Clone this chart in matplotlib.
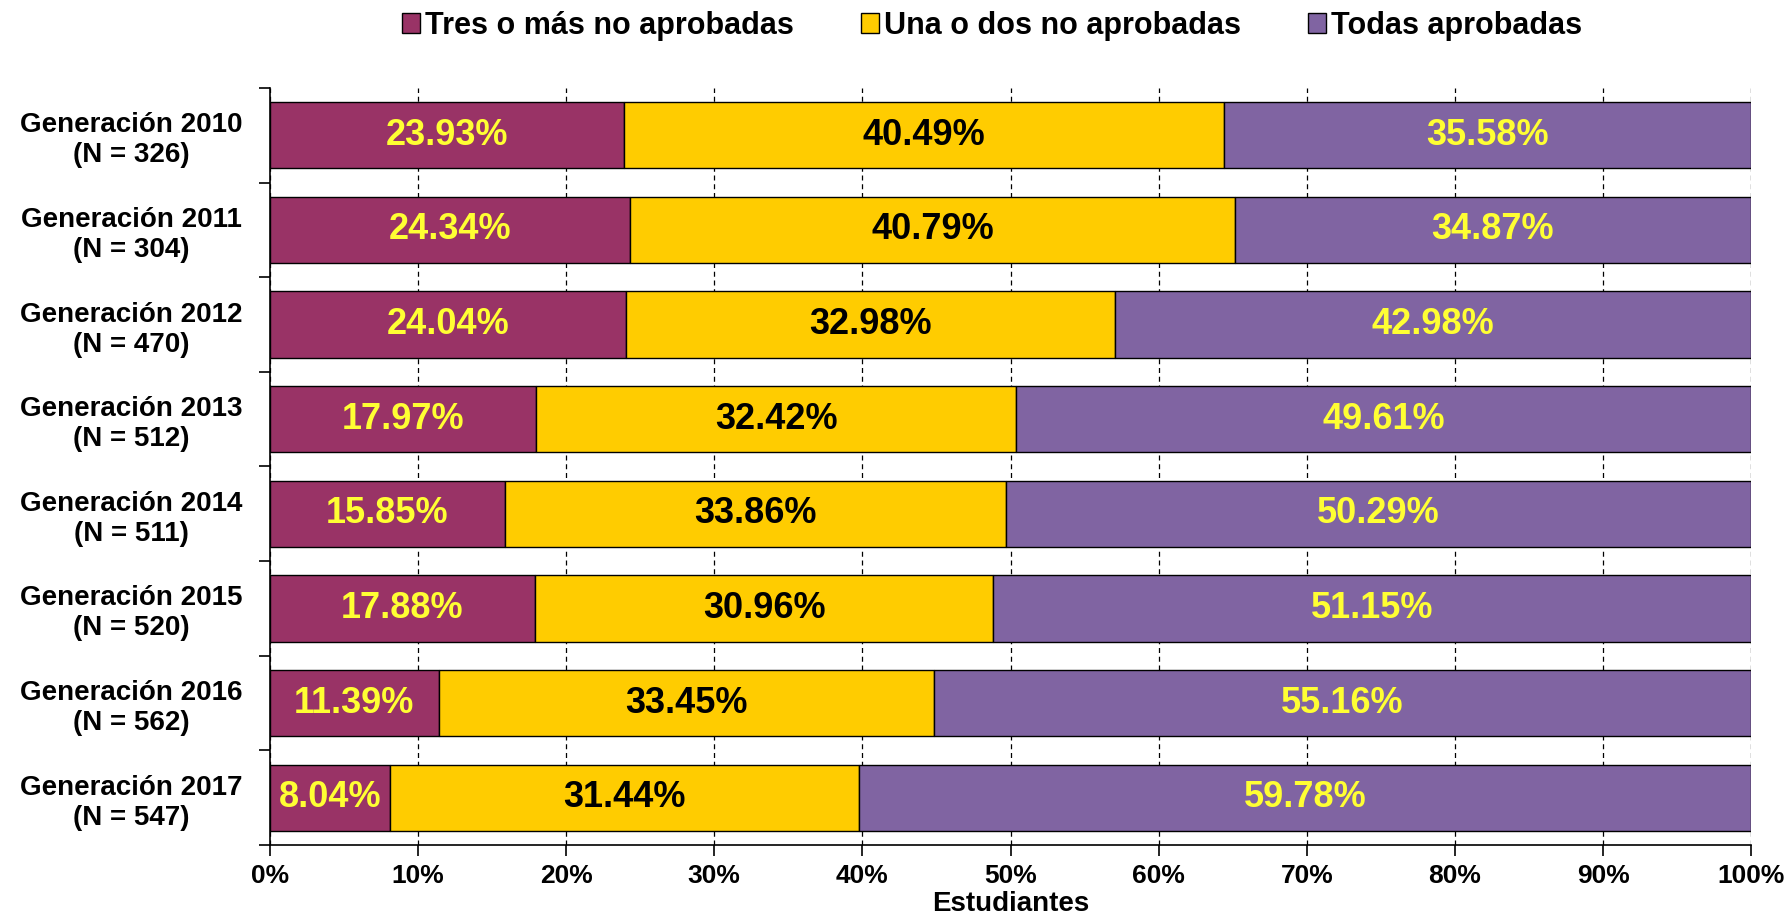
import matplotlib
matplotlib.use("Agg")
import matplotlib.pyplot as plt
import numpy as np
from matplotlib.patches import Patch

plt.rcParams['font.family'] = ['Liberation Sans', 'DejaVu Sans']
plt.rcParams['font.weight'] = 'bold'

categories = ["Generación 2010\n(N = 326)", "Generación 2011\n(N = 304)",
              "Generación 2012\n(N = 470)", "Generación 2013\n(N = 512)",
              "Generación 2014\n(N = 511)", "Generación 2015\n(N = 520)",
              "Generación 2016\n(N = 562)", "Generación 2017\n(N = 547)"]
series_names = ["Tres o más no aprobadas", "Una o dos no aprobadas", "Todas aprobadas"]
tres = [23.93, 24.34, 24.04, 17.97, 15.85, 17.88, 11.39, 8.04]
una = [40.49, 40.79, 32.98, 32.42, 33.86, 30.96, 33.45, 31.44]
todas = [35.58, 34.87, 42.98, 49.61, 50.29, 51.15, 55.16, 59.78]
colors = ["#993366", "#FFCC00", "#8064A2"]
text_colors = ["#FFFF33", "black", "#FFFF33"]
xticks = [0, 10, 20, 30, 40, 50, 60, 70, 80, 90, 100]

fig = plt.figure(figsize=(17.87, 9.16), dpi=100)
ax = fig.add_axes([0.151, 0.0775, 0.829, 0.8265])

data = np.array([tres, una, todas])
totals = data.sum(axis=0)
shares = data / totals * 100  # 100% stacked

y = np.arange(len(categories))
left = np.zeros(len(categories))
for raw, vals, col, tcol in zip(data, shares, colors, text_colors):
    ax.barh(y, vals, left=left, height=0.7, color=col, edgecolor="black", linewidth=1.0, zorder=3)
    for yi, l, v, r in zip(y, left, vals, raw):
        ax.text(l + v / 2, yi, f"{r:.2f}%", ha="center", va="center",
                color=tcol, fontsize=26, fontweight="bold", zorder=4)
    left = left + vals

ax.set_xlim(0, 100)
ax.set_ylim(len(categories) - 0.5, -0.5)
ax.set_xticks(xticks)
ax.set_xticklabels([f"{t}%" for t in xticks], fontsize=19, fontweight="bold")
ax.set_yticks(y)
ax.set_yticklabels(categories, fontsize=20, fontweight="bold", ha="center", multialignment="center")
ax.tick_params(axis="y", which="major", length=0, pad=100)
ax.set_yticks(np.arange(-0.5, len(categories), 1), minor=True)
ax.tick_params(axis="y", which="minor", length=8, width=1.2, direction="out")
ax.tick_params(axis="x", which="major", length=8, width=1.2, direction="out", pad=6)
ax.grid(axis="x", linestyle=(0, (4, 3)), color="black", linewidth=0.9, zorder=0)
for s in ["top", "right"]:
    ax.spines[s].set_visible(False)
ax.spines["left"].set_linewidth(1.2)
ax.spines["bottom"].set_linewidth(1.2)
ax.set_xlabel("Estudiantes", fontsize=20, fontweight="bold", labelpad=2)

handles = [Patch(facecolor=c, edgecolor="black", label=n) for c, n in zip(colors, series_names)]
fig.legend(handles=handles, loc="center", bbox_to_anchor=(0.555, 0.972), ncol=3,
           frameon=False, prop={"size": 22, "weight": "bold"}, handlelength=0.6,
           handleheight=0.6, handletextpad=0.15, columnspacing=2.2)

fig.savefig("out.png", dpi=100)
